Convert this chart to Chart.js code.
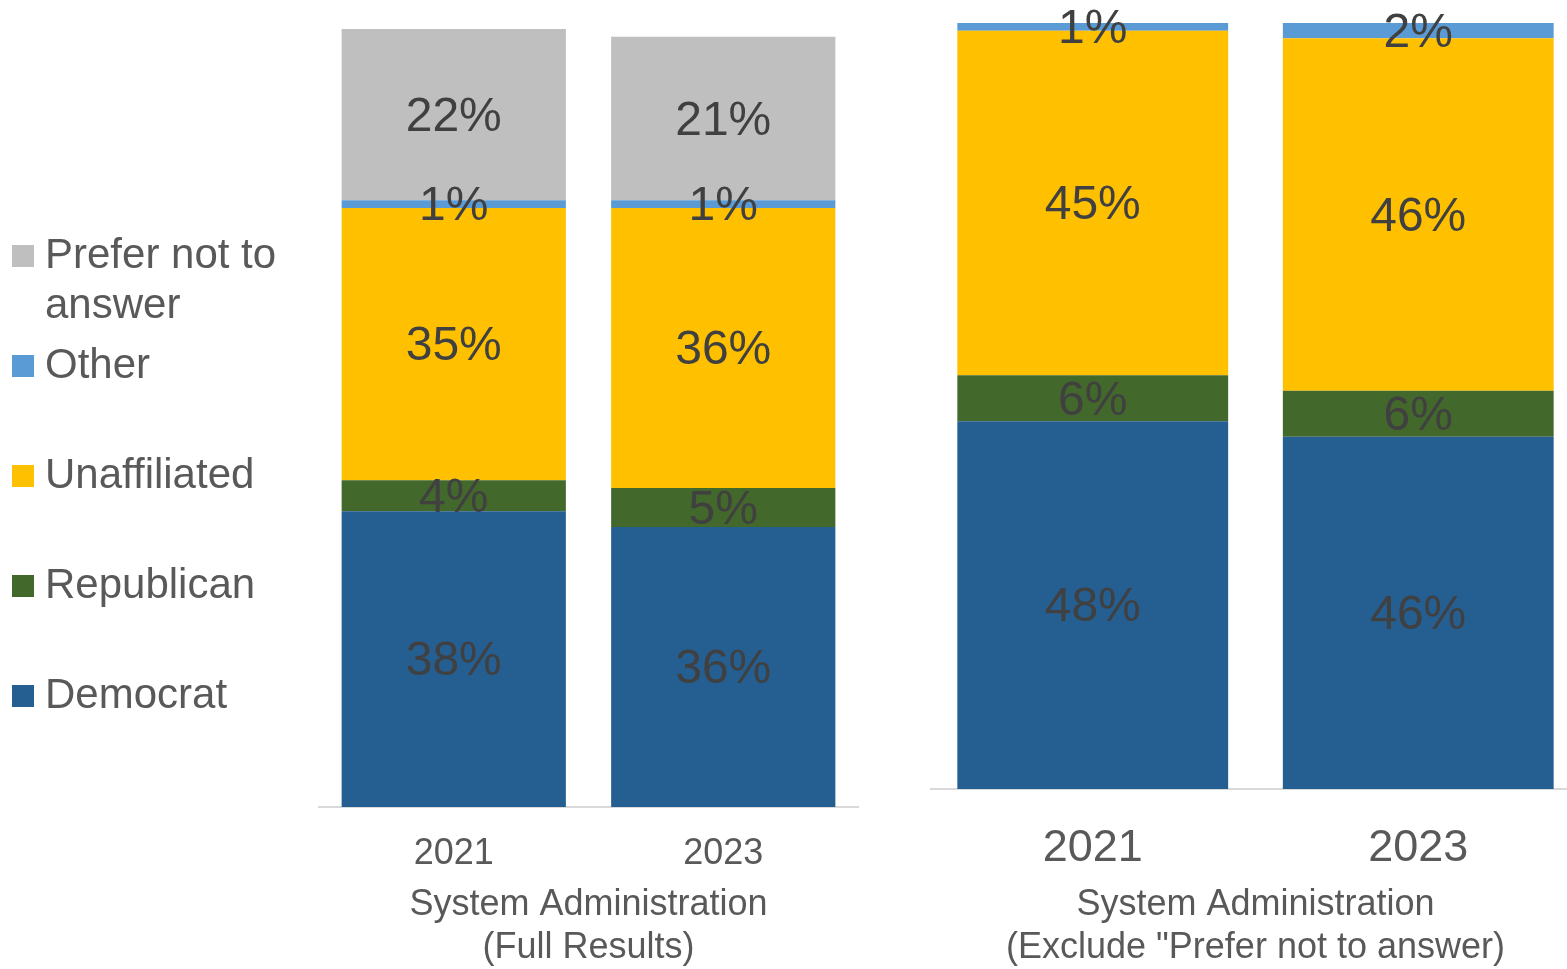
<!DOCTYPE html>
<html>
<head>
<meta charset="utf-8">
<script src="https://cdn.jsdelivr.net/npm/chart.js@4.4.1/dist/chart.umd.min.js"></script>
<style>
  html, body { margin: 0; padding: 0; background: #fff; overflow: hidden; width: 1567px; height: 969px; }
  .box { position: absolute; top: 0; height: 972px; }
  #full { left: 0; width: 870px; }
  #excl { left: 930px; width: 651px; }
</style>
</head>
<body>
<div class="box" id="full"><canvas id="fullChart"></canvas></div>
<div class="box" id="excl"><canvas id="exclChart"></canvas></div>
<script>
// data
const years = ['2021', '2023'];
const parties = ['Democrat', 'Republican', 'Unaffiliated', 'Other', 'Prefer not to answer'];

// full results (%)
const fullDemocrat = [38, 36];
const fullRepublican = [4, 5];
const fullUnaffiliated = [35, 36];
const fullOther = [1, 1];
const fullPreferNot = [22, 21];

// excluding "prefer not to answer" (%)
const exclDemocrat = [48, 46];
const exclRepublican = [6, 6];
const exclUnaffiliated = [45, 46];
const exclOther = [1, 2];

const COLORS = {
	democrat: '#255E91',
	republican: '#43682B',
	unaffiliated: '#FFC000',
	other: '#5B9BD5',
	prefer: '#BFBFBF'
};
const FONT = '"Liberation Sans", Arial, sans-serif';
const TEXT = '#595959';

const dataset = (label, data, color) => ({
	label: label,
	data: data,
	backgroundColor: color,
	borderWidth: 0,
	barPercentage: 0.832,
	categoryPercentage: 1
});

// percent labels in the middle of each segment
const segmentLabels = {
	id: 'segmentLabels',
	afterDatasetsDraw(chart) {
		const ctx = chart.ctx;
		ctx.save();
		ctx.font = `48px ${FONT}`;
		ctx.fillStyle = '#404040';
		ctx.textAlign = 'center';
		ctx.textBaseline = 'middle';
		chart.data.datasets.forEach((ds, i) => {
			chart.getDatasetMeta(i).data.forEach((bar, j) => {
				ctx.fillText(ds.data[j] + '%', bar.x, (bar.y + bar.base) / 2 + 3);
			});
		});
		ctx.restore();
	}
};

// wrap a legend entry into lines no wider than maxWidth
const wrapText = (ctx, text, maxWidth) => {
	const words = text.split(' ');
	const lines = [];
	let line = '';
	words.forEach(word => {
		const test = line ? line + ' ' + word : word;
		if (line && ctx.measureText(test).width > maxWidth) {
			lines.push(line);
			line = word;
		} else {
			line = test;
		}
	});
	lines.push(line);
	return lines;
};

// legend on the left, top entry is the top stack segment
const sideLegend = {
	id: 'sideLegend',
	afterDraw(chart) {
		const ctx = chart.ctx;
		ctx.save();
		ctx.font = `42px ${FONT}`;
		ctx.textAlign = 'left';
		ctx.textBaseline = 'alphabetic';
		chart.data.datasets.slice().reverse().forEach((ds, i) => {
			const baseline = 268 + i * 110;
			ctx.fillStyle = ds.backgroundColor;
			ctx.fillRect(12, baseline - 23, 22, 22);
			ctx.fillStyle = TEXT;
			wrapText(ctx, ds.label, 250).forEach((line, k) => {
				ctx.fillText(line, 45, baseline + k * 50);
			});
		});
		ctx.restore();
	}
};

const config = (datasets, opts) => ({
	type: 'bar',
	data: { labels: years, datasets: datasets },
	options: {
		responsive: true,
		maintainAspectRatio: false,
		animation: false,
		layout: { padding: opts.padding },
		plugins: {
			legend: { display: false },
			tooltip: { enabled: false }
		},
		scales: {
			x: {
				stacked: true,
				afterFit: (scale) => { scale.height = opts.axisHeight; },
				grid: { display: false, drawTicks: false },
				border: { display: true, color: '#D9D9D9', width: 2 },
				ticks: {
					color: TEXT,
					padding: opts.tickPadding,
					maxRotation: 0,
					font: { size: opts.tickSize, family: FONT }
				},
				title: {
					display: true,
					text: opts.title,
					color: TEXT,
					padding: { top: 0, bottom: 2 },
					font: { size: 36, family: FONT, lineHeight: 1.2 }
				}
			},
			y: {
				stacked: true,
				display: false,
				min: 0,
				max: 100
			}
		}
	},
	plugins: opts.plugins
});

new Chart(document.getElementById('fullChart'), config([
	dataset(parties[0], fullDemocrat, COLORS.democrat),
	dataset(parties[1], fullRepublican, COLORS.republican),
	dataset(parties[2], fullUnaffiliated, COLORS.unaffiliated),
	dataset(parties[3], fullOther, COLORS.other),
	dataset(parties[4], fullPreferNot, COLORS.prefer)
], {
	padding: { top: 29, left: 319, right: 12, bottom: 0 },
	axisHeight: 165,
	tickPadding: 25,
	tickSize: 36,
	title: ['System Administration', '(Full Results)'],
	plugins: [segmentLabels, sideLegend]
}));

new Chart(document.getElementById('exclChart'), config([
	dataset(parties[0], exclDemocrat, COLORS.democrat),
	dataset(parties[1], exclRepublican, COLORS.republican),
	dataset(parties[2], exclUnaffiliated, COLORS.unaffiliated),
	dataset(parties[3], exclOther, COLORS.other)
], {
	padding: { top: 23, left: 0, right: 0, bottom: 0 },
	axisHeight: 183,
	tickPadding: 33,
	tickSize: 45,
	title: ['System Administration', '(Exclude "Prefer not to answer)'],
	plugins: [segmentLabels]
}));
</script>
</body>
</html>
